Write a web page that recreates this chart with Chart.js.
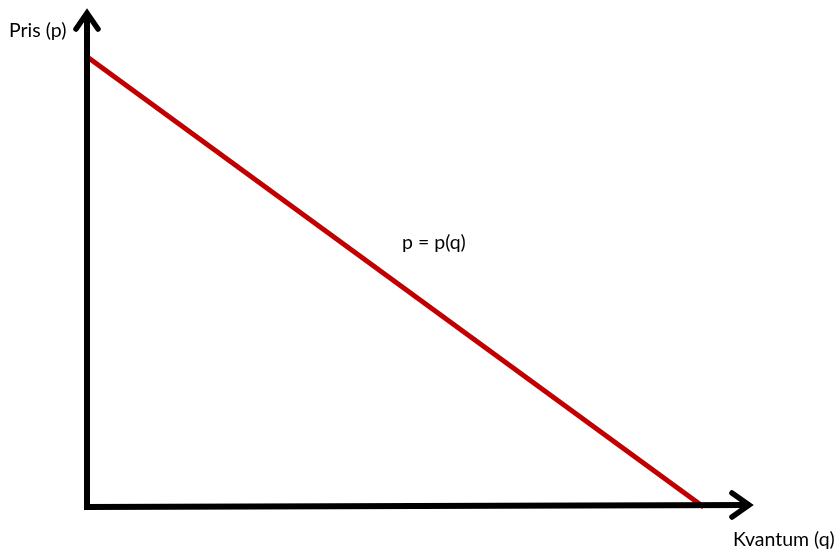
<!DOCTYPE html>
<html>
<head>
<meta charset="utf-8">
<script src="https://cdn.jsdelivr.net/npm/chart.js@4"></script>
<style>
  html, body { margin: 0; padding: 0; background: #fff; }
  canvas { display: block; }
</style>
</head>
<body>
<canvas id="demand" width="839" height="549"></canvas>
<script>
// demand curve p = p(q), straight line from the price axis to the quantity axis
const quantity = [0, 10];
const price = [10, 0];
const axisMax = { q: 10.8, p: 11.04 };
const labels = { yAxis: "Pris (p)", xAxis: "Kvantum (q)", curve: "p = p(q)" };

// axes with open arrowheads plus the three text labels
const axesPlugin = {
  id: "arrowAxes",
  afterDatasetsDraw(chart) {
    const ctx = chart.ctx;
    const xs = chart.scales.x, ys = chart.scales.y;
    const x0 = xs.getPixelForValue(0), y0 = ys.getPixelForValue(0);
    const xEnd = xs.getPixelForValue(axisMax.q), yEnd = ys.getPixelForValue(axisMax.p);

    ctx.save();
    ctx.strokeStyle = "#000";
    ctx.lineWidth = 6;
    ctx.lineCap = "butt";
    ctx.beginPath();
    ctx.moveTo(x0, y0 + 3);
    ctx.lineTo(x0, yEnd + 3);
    ctx.moveTo(x0 - 3, y0);
    ctx.lineTo(xEnd - 3, y0 - 2);
    ctx.stroke();

    // arrowheads
    ctx.lineWidth = 5.5;
    ctx.lineJoin = "miter";
    ctx.lineCap = "round";
    ctx.beginPath();
    ctx.moveTo(x0 - 11, yEnd + 19);
    ctx.lineTo(x0, yEnd + 3);
    ctx.lineTo(x0 + 11, yEnd + 19);
    ctx.moveTo(xEnd - 21, y0 - 14);
    ctx.lineTo(xEnd - 4, y0 - 2);
    ctx.lineTo(xEnd - 21, y0 + 10);
    ctx.stroke();

    ctx.fillStyle = "#000";
    ctx.font = "19.5px Lato, 'Open Sans', sans-serif";
    ctx.textBaseline = "middle";
    ctx.textAlign = "left";
    ctx.fillText(labels.yAxis, 9, 31);
    ctx.fillText(labels.xAxis, 733, 540);
    ctx.fillText(labels.curve, 402, 243);
    ctx.restore();
  }
};

new Chart(document.getElementById("demand"), {
  type: "scatter",
  data: {
    datasets: [{
      label: labels.curve,
      data: quantity.map((q, i) => ({ x: q, y: price[i] })),
      showLine: true,
      borderColor: "#C00000",
      borderWidth: 5,
      pointRadius: 0,
      borderCapStyle: "butt",
      clip: false
    }]
  },
  options: {
    responsive: false,
    animation: false,
    layout: { padding: { left: 87, right: 86, top: 10, bottom: 42 } },
    plugins: { legend: { display: false }, tooltip: { enabled: false } },
    scales: {
      x: { type: "linear", min: 0, max: axisMax.q, display: false },
      y: { type: "linear", min: 0, max: axisMax.p, display: false }
    }
  },
  plugins: [axesPlugin]
});
</script>
</body>
</html>
